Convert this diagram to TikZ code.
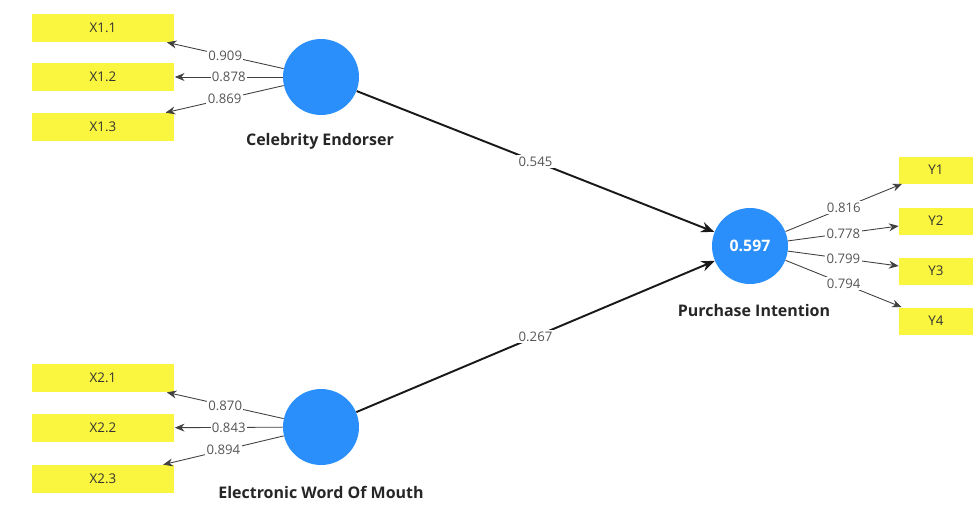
\documentclass[tikz,border=0pt]{standalone}
\usepackage{fontspec}
\setmainfont{Open Sans}
\usetikzlibrary{arrows.meta}
\definecolor{itemyellow}{RGB}{250,245,62}
\definecolor{lvblue}{RGB}{42,143,250}
\definecolor{loadgray}{RGB}{85,85,85}
\tikzset{
	item/.style={fill=itemyellow, minimum width=2.86cm, minimum height=0.56cm, inner sep=0pt, text=black!80, font=\fontsize{7.6}{8}\selectfont},
	itemy/.style={item, minimum width=1.48cm, minimum height=0.54cm},
	lv/.style={circle, fill=lvblue, minimum size=1.52cm, inner sep=0pt, text=white, font=\bfseries\fontsize{9}{10}\selectfont},
	lvname/.style={font=\bfseries\fontsize{9.1}{10}\selectfont, text=black!85},
	loading/.style={draw=black!75, line width=0.5pt, -{Stealth[length=5.5pt,width=4.5pt]}},
	coef/.style={draw=black!90, line width=1.1pt, -{Stealth[length=7.5pt,width=6pt]}},
	val/.style={fill=white, inner sep=0.8pt, text=loadgray, font=\fontsize{7.5}{8}\selectfont}
}
\begin{document}
\begin{tikzpicture}[x=0.02cm, y=-0.02cm]
		%%%%% START %%%%%
		\useasboundingbox (0, 0) rectangle (973, 504);
		
		\node[item] (x11) at (103, 28) {X1.1};
		\node[item] (x12) at (103, 77) {X1.2};
		\node[item] (x13) at (103, 127) {X1.3};
		
		\node[item] (x21) at (103, 378) {X2.1};
		\node[item] (x22) at (103, 428) {X2.2};
		\node[item] (x23) at (103, 479) {X2.3};
		
		\node[itemy] (y1) at (936, 170) {Y1};
		\node[itemy] (y2) at (936, 221) {Y2};
		\node[itemy] (y3) at (936, 271) {Y3};
		\node[itemy] (y4) at (936, 321) {Y4};
		
		\node[lv] (ce) at (321, 77) {};
		\node[lv] (ewom) at (321, 427) {};
		\node[lv] (pi) at (750, 246) {0.597};
		
		\node[lvname] (cename) at (320, 141) {Celebrity Endorser};
		\node[lvname] (ewomname) at (321, 492) {Electronic Word Of Mouth};
		\node[lvname] (piname) at (754, 310) {Purchase Intention};
		
		\draw[loading] (ce) -- node[val] {0.909} (x11);
		\draw[loading] (ce) -- node[val] {0.878} (x12);
		\draw[loading] (ce) -- node[val] {0.869} (x13);
		
		\draw[loading] (ewom) -- node[val] {0.870} (x21);
		\draw[loading] (ewom) -- node[val] {0.843} (x22);
		\draw[loading] (ewom) -- node[val] {0.894} (x23);
		
		\draw[loading] (pi) -- node[val] {0.816} (y1);
		\draw[loading] (pi) -- node[val] {0.778} (y2);
		\draw[loading] (pi) -- node[val] {0.799} (y3);
		\draw[loading] (pi) -- node[val] {0.794} (y4);
		
		\draw[coef] (ce) -- node[val] {0.545} (pi);
		\draw[coef] (ewom) -- node[val] {0.267} (pi);
		
		%%%%% END %%%%%
\end{tikzpicture}
\end{document}
